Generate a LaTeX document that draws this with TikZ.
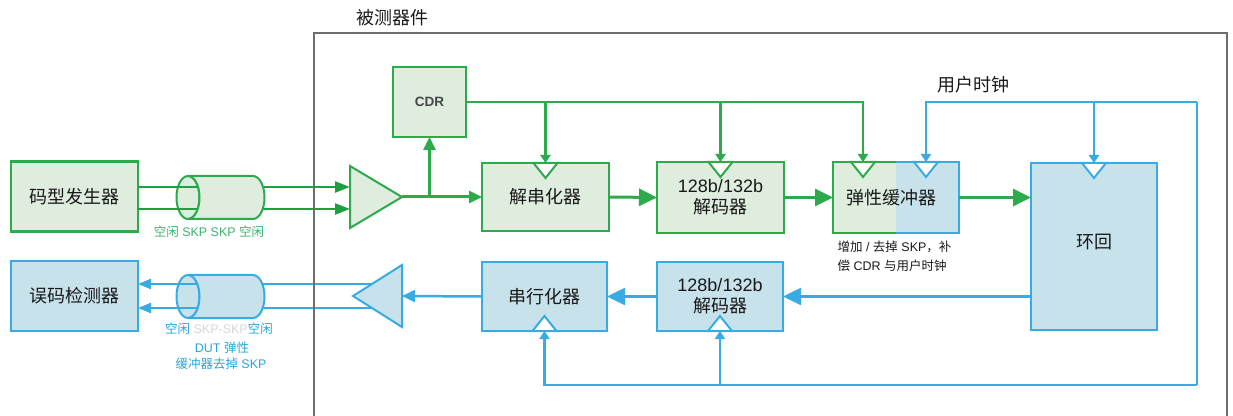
\documentclass[tikz,border=0pt]{standalone}
\usepackage{fontspec}
\setmainfont{Liberation Sans}
\newfontfamily\cjk{Noto Sans CJK SC}
\usetikzlibrary{arrows.meta,calc}
\newcommand{\zh}[1]{{\cjk #1}}
\newcommand{\bigf}{\fontsize{18}{22}\selectfont}
\newcommand{\smallf}{\fontsize{12.5}{19}\selectfont}
\newcommand{\cdrf}{\fontsize{13.5}{16}\selectfont\bfseries}
\definecolor{gstroke}{RGB}{44,170,76}
\definecolor{garrow}{RGB}{30,160,65}
\definecolor{gfill}{RGB}{222,237,222}
\definecolor{bstroke}{RGB}{56,172,226}
\definecolor{bfill}{RGB}{200,226,236}
\definecolor{gtext}{RGB}{60,180,110}
\definecolor{btext}{RGB}{40,165,222}
\definecolor{framec}{RGB}{110,110,110}
\definecolor{skpgray}{RGB}{215,215,215}
\definecolor{txt}{RGB}{25,25,25}
\definecolor{cdrtxt}{RGB}{70,70,70}
\tikzset{
  anybox/.style={line width=2.5pt, minimum width=127pt, minimum height=70pt, inner sep=0pt, outer sep=0pt, font=\bigf, text=txt, align=center},
  gbox/.style={anybox, draw=gstroke, fill=gfill},
  bbox/.style={anybox, draw=bstroke, fill=bfill},
  gline/.style={draw=gstroke, line width=3pt},
  gthin/.style={draw=gstroke, line width=2.5pt},
  bline/.style={draw=bstroke, line width=2.5pt},
  bigarrow/.style={-{Triangle[length=18pt,width=17pt]}},
  midarrow/.style={-{Triangle[length=13pt,width=12pt]}},
  inarrow/.style={-{Triangle[length=15pt,width=11pt]}},
  outarrow/.style={-{Triangle[length=13pt,width=10pt]}},
  clkarrow/.style={-{Triangle[length=8pt,width=10pt]}},
  gclk/.style={draw=gstroke, fill=white, line width=2pt, line join=miter},
  bclk/.style={draw=bstroke, fill=white, line width=2pt, line join=miter},
  cylg/.style={draw=gstroke, fill=gfill, line width=2pt},
  cylb/.style={draw=bstroke, fill=bfill, line width=2pt},
}
\begin{document}
\begin{tikzpicture}[x=1pt,y=1pt]
\useasboundingbox (0,0) rectangle (1233,415);

% boxes
\node[gbox] (pg) at (74.5,218.5) {\zh{码型发生器}};
\node[bbox] (ed) at (74.5,119) {\zh{误码检测器}};
\node[gbox, minimum width=73pt, minimum height=70pt, font=\cdrf, text=cdrtxt] (cdr) at (429.5,313) {CDR};
\node[gbox, minimum height=68pt] (des) at (545.5,218) {\zh{解串化器}};
\node[gbox, minimum height=71pt] (dec1) at (720.5,217.5) {128b/132b\\[-1pt]\zh{解码器}};
\node[anybox, minimum width=126pt, minimum height=71pt] (eb) at (896,217.5) {};
\node[bbox, minimum width=126pt, minimum height=167pt] (lb) at (1094,168.5) {};
\node[bbox, minimum width=126pt, minimum height=69pt] (dec2) at (720,118.5) {128b/132b\\[-1pt]\zh{解码器}};
\node[bbox, minimum width=125pt, minimum height=69pt] (ser) at (544.5,118.5) {\zh{串行化器}};

% elastic buffer two-colour body
\fill[gfill] (eb.north west) rectangle (eb.south);
\fill[bfill] (eb.north) rectangle (eb.south east);
\draw[gthin] (eb.north) -| (eb.south west) -- (eb.south);
\draw[bline] (eb.north) -| (eb.south east) -- (eb.south);
\node[font=\bigf, text=txt] (ebt) at ($(eb.center)+(-5,0)$) {\zh{弹性缓冲器}};
\node[font=\bigf, text=txt] (lbt) at ($(lb.center)+(0,4.5)$) {\zh{环回}};

% amplifiers
\draw[gstroke, fill=gfill, line width=2pt, line join=miter] (350,249) -- (402,218) -- (350,187) -- cycle;
\coordinate (ga1) at (350,228);
\coordinate (ga2) at (350,206);
\coordinate (gout) at (402,218);
\draw[bstroke, fill=bfill, line width=2pt, line join=miter] (402,150) -- (353,119) -- (402,88) -- cycle;
\coordinate (bin) at (402,119);
\coordinate (bo1) at (372,131);
\coordinate (bo2) at (372,107);

% cylinder front faces
\draw[cylg] (188,217.5) ellipse[x radius=11.5, y radius=21.5];
\draw[cylb] (188,118.5) ellipse[x radius=11.5, y radius=21.5];

% input / output pairs
\draw[gthin, inarrow, garrow] (ga1 -| pg.east) -- (ga1);
\draw[gthin, inarrow, garrow] (ga2 -| pg.east) -- (ga2);
\draw[bline, outarrow] (bo1) -- (bo1 -| ed.east);
\draw[bline, outarrow] (bo2) -- (bo2 -| ed.east);

% cylinder bodies
\draw[cylg] (188,239) -- (253,239) arc[start angle=90, end angle=-90, x radius=11.5, y radius=21.5] -- (188,196) arc[start angle=-90, end angle=90, x radius=11.5, y radius=21.5] -- cycle;
\draw[cylb] (188,140) -- (253,140) arc[start angle=90, end angle=-90, x radius=11.5, y radius=21.5] -- (188,97) arc[start angle=-90, end angle=90, x radius=11.5, y radius=21.5] -- cycle;

% green data path
\draw[gline, midarrow] (gout) -- (des.west);
\draw[gline, midarrow] (cdr.south |- gout) -- (cdr.south);
\draw[gline, bigarrow] (des.east) -- (dec1.west);
\draw[gline, bigarrow] (dec1.east) -- (eb.west);
\draw[gline, bigarrow] (eb.east) -- (eb.east -| lb.west);

% CDR clock
\path (eb.north) ++(-33,0) coordinate (ebg) ++(63,0) coordinate (ebb);
\draw[gthin, clkarrow] (cdr.east) -| (ebg);
\draw[gthin, clkarrow] (cdr.east -| des.north) -- (des.north);
\draw[gthin, clkarrow] (cdr.east -| dec1.north) -- (dec1.north);

% blue path
\draw[bline, bigarrow] (dec2.east -| lb.west) -- (dec2.east);
\draw[bline, bigarrow] (dec2.west) -- (ser.east);
\draw[bline, midarrow] (ser.west) -- (bin);

% user clock
\coordinate (ucr) at (1197,313);
\coordinate (ucb) at (1197,30);
\draw[bline, clkarrow] (ucr) -| (ebb);
\draw[bline, clkarrow] (lb.north |- ucr) -- (lb.north);
\draw[bline] (ucr) -- (ucb);
\draw[bline, clkarrow] (ucb) -| (ser.south);
\draw[bline, clkarrow] (dec2.south |- ucb) -- (dec2.south);

% clock triangles
\draw[gclk] ($(des.north)+(-12,0)$) -- ++(24,0) -- ++(-12,-15) -- cycle;
\draw[gclk] ($(dec1.north)+(-12,0)$) -- ++(24,0) -- ++(-12,-15) -- cycle;
\draw[gclk] ($(ebg)+(-12,0)$) -- ++(24,0) -- ++(-12,-15) -- cycle;
\draw[bclk] ($(ebb)+(-12,0)$) -- ++(24,0) -- ++(-12,-15) -- cycle;
\draw[bclk] ($(lb.north)+(-12,0)$) -- ++(24,0) -- ++(-12,-15) -- cycle;
\draw[bclk] ($(ser.south)+(-12,0)$) -- ++(24,0) -- ++(-12,15) -- cycle;
\draw[bclk] ($(dec2.south)+(-12,0)$) -- ++(24,0) -- ++(-12,15) -- cycle;

% DUT frame
\draw[framec, line width=2pt] (314,-5) -- (314,382) -- (1227,382) -- (1227,-5);

% labels
\node[font=\bigf, text=txt] (dut) at (392,397) {\zh{被测器件}};
\node[font=\bigf, text=txt] (uc) at (973.5,330) {\zh{用户时钟}};
\node[font=\smallf, text=gtext] (glab) at (209,183.5) {\zh{空闲} SKP SKP \zh{空闲}};
\node[font=\smallf, text=btext] (bl1) at (219,86) {\zh{空闲} \textcolor{skpgray}{SKP-SKP}\zh{空闲}};
\node[font=\smallf, text=btext] (bl2) at (222,67) {DUT \zh{弹性}};
\node[font=\smallf, text=btext] (bl3) at (221,51) {\zh{缓冲器去掉} SKP};
\node[font=\smallf, text=txt, align=left, anchor=west] (ebl) at (834,158.5) {\zh{增加} / \zh{去掉} SKP\zh{，补}\\\zh{偿} CDR \zh{与用户时钟}};
\end{tikzpicture}
\end{document}
